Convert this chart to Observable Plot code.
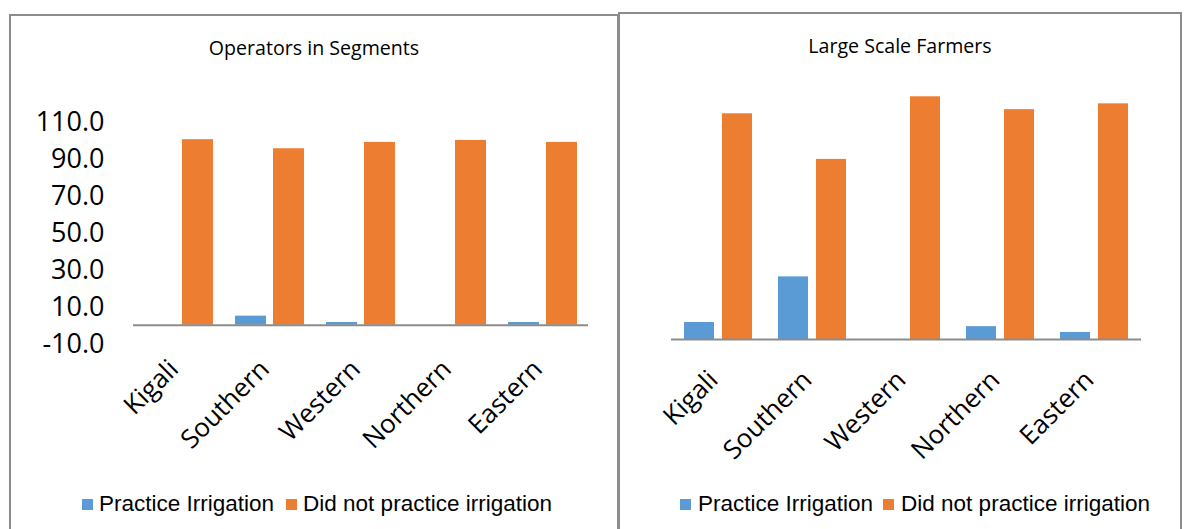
<!DOCTYPE html>
<html><head><meta charset="utf-8">
<script src="https://cdn.jsdelivr.net/npm/d3@7"></script>
<script src="https://cdn.jsdelivr.net/npm/@observablehq/plot@0.6"></script>
<style>
body{margin:0;background:#fff;width:1184px;height:529px;overflow:hidden;position:relative;font-family:"Open Sans",sans-serif;}
.panel{position:absolute;border:2px solid #8c8c8c;border-bottom:none;box-sizing:border-box;}
.title{position:absolute;text-align:center;font-family:"Open Sans",sans-serif;font-size:19.6px;line-height:26px;color:#000;}
.chart{position:absolute;top:0;}
.legend{position:absolute;display:flex;align-items:center;font-family:"Liberation Sans",Arial,sans-serif;font-size:22.5px;line-height:26px;color:#000;white-space:nowrap;}
.sw{width:11px;height:11px;display:inline-block;}
</style></head><body>
<div class="panel" style="left:9px;top:14px;width:610px;height:530px;"></div>
<div class="panel" style="left:618px;top:12px;width:564px;height:530px;"></div>
<div class="title" style="left:9px;width:610px;top:35px;">Operators in Segments</div>
<div class="title" style="left:618px;width:564px;top:33px;">Large Scale Farmers</div>
<div id="leftChart" class="chart" style="left:0px;"></div>
<div id="rightChart" class="chart" style="left:620px;"></div>
<div id="leftLegend" class="legend" style="left:82px;top:491px;"></div>
<div id="rightLegend" class="legend" style="left:680px;top:491px;"></div>
<script>
const categories = ["Kigali", "Southern", "Western", "Northern", "Eastern"];
const seriesNames = ["Practice Irrigation", "Did not practice irrigation"];
const seriesColors = ["#5B9BD5", "#ED7D31"];
// Operators in Segments (%)
const operatorsPractice = [0, 4.9, 1.5, 0, 1.5];
const operatorsNotPractice = [100, 95.1, 98.5, 99.6, 98.5];
// Large Scale Farmers (%)
const farmersPractice = [7.0, 25.8, 0, 5.3, 2.9];
const farmersNotPractice = [93.0, 74.2, 100, 94.7, 97.1];
const yTicksLeft = [-10, 10, 30, 50, 70, 90, 110];

function toRows(a, b) {
  return categories.flatMap((c, i) => [
    {category: c, series: seriesNames[0], value: a[i]},
    {category: c, series: seriesNames[1], value: b[i]}
  ]);
}

const fxAxisOpts = {anchor: "bottom", tickRotate: -45, tickSize: 0, dx: -5, fontSize: 26, label: null, fontFamily: "Open Sans"};

const leftPlot = Plot.plot({
  width: 620, height: 470,
  marginLeft: 131, marginRight: 30, marginTop: 120.6, marginBottom: 126.7,
  style: {background: "transparent", color: "#000", overflow: "visible", fontFamily: "Open Sans"},
  fx: {domain: categories, padding: 0},
  x: {domain: seriesNames, paddingInner: 0.1875, paddingOuter: 0.289, axis: null},
  y: {domain: [-10, 110]},
  color: {domain: seriesNames, range: seriesColors},
  marks: [
    Plot.axisY(yTicksLeft, {tickSize: 0, tickPadding: 29, tickFormat: d => d.toFixed(1), fontSize: 27, label: null, fontFamily: "Open Sans", dy: 1}),
    Plot.axisFx({...fxAxisOpts, tickPadding: 21}),
    Plot.barY(toRows(operatorsPractice, operatorsNotPractice), {fx: "category", x: "series", y: "value", fill: "series"}),
    Plot.ruleY([0], {stroke: "#8c8c8c", strokeWidth: 2.2})
  ]
});
document.getElementById("leftChart").appendChild(leftPlot);

const rightPlot = Plot.plot({
  width: 564, height: 470,
  marginLeft: 51, marginRight: 42.3, marginTop: 96.3, marginBottom: 131,
  style: {background: "transparent", color: "#000", overflow: "visible", fontFamily: "Open Sans"},
  fx: {domain: categories, padding: 0},
  x: {domain: seriesNames, paddingInner: 0.205, paddingOuter: 0.309, axis: null},
  y: {domain: [0, 100], axis: null},
  color: {domain: seriesNames, range: seriesColors},
  marks: [
    Plot.axisFx({...fxAxisOpts, tickPadding: 36}),
    Plot.barY(toRows(farmersPractice, farmersNotPractice), {fx: "category", x: "series", y: "value", fill: "series"}),
    Plot.ruleY([0], {stroke: "#8c8c8c", strokeWidth: 2.2})
  ]
});
document.getElementById("rightChart").appendChild(rightPlot);

function legend(id, gaps) {
  const el = document.getElementById(id);
  seriesNames.forEach((name, i) => {
    const sw = document.createElement("span");
    sw.className = "sw";
    sw.style.background = seriesColors[i];
    sw.style.marginRight = gaps[0] + "px";
    el.appendChild(sw);
    const t = document.createElement("span");
    t.textContent = name;
    if (i === 0) t.style.marginRight = gaps[1] + "px";
    el.appendChild(t);
  });
}
legend("leftLegend", [6, 12]);
legend("rightLegend", [7, 10]);
</script>
</body></html>
